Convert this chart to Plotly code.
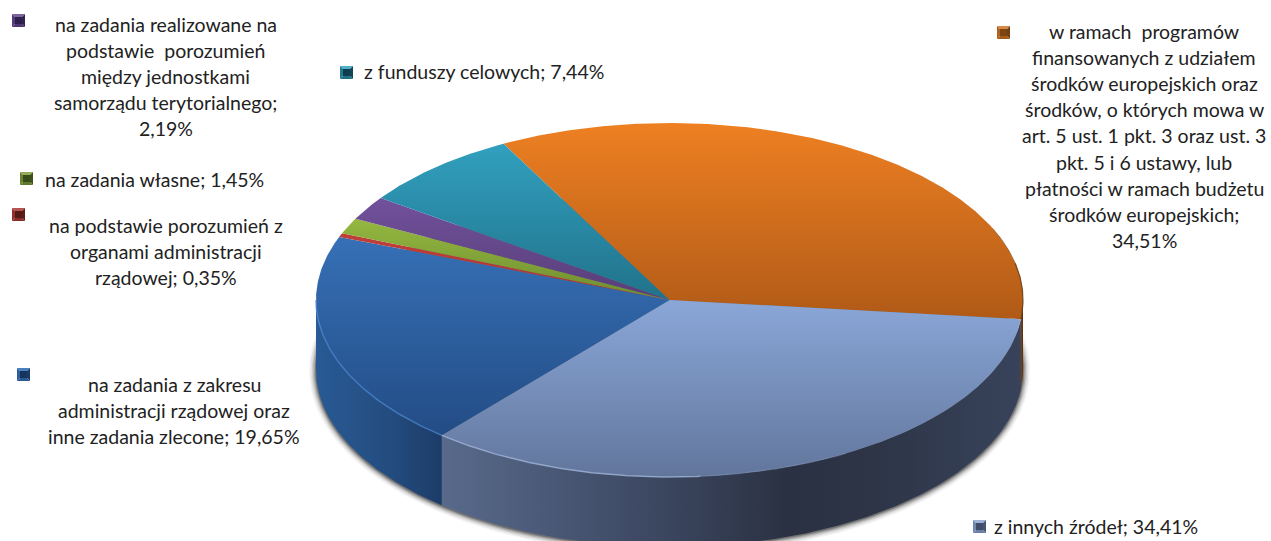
import numpy as np
import plotly.graph_objects as go

# Budget shares, clockwise from the start angle
categories = ["fundusze_europejskie", "inne_zrodla", "zlecone", "porozumienia_rzad",
              "wlasne", "porozumienia_jst", "fundusze_celowe"]
shares = [34.51, 34.41, 19.65, 0.35, 1.45, 2.19, 7.44]

# Lighter and darker end of the vertical shading on the top face
top_light = ["#ee8022", "#8aa7d8", "#3670b6", "#c23f3a", "#94b840", "#72519c", "#31a0bf"]
top_dark = ["#b05a17", "#62769c", "#234c85", "#a83331", "#6f8c30", "#573e78", "#21728a"]

label_lines = [
    ["w ramach  programów", "finansowanych z udziałem", "środków europejskich oraz",
     "środków, o których mowa w", "art. 5 ust. 1 pkt. 3 oraz ust. 3", "pkt. 5 i 6 ustawy, lub",
     "płatności w ramach budżetu", "środków europejskich;", "34,51%"],
    ["z innych źródeł; 34,41%"],
    ["na zadania z zakresu", "administracji rządowej oraz", "inne zadania zlecone; 19,65%"],
    ["na podstawie porozumień z", "organami administracji", "rządowej; 0,35%"],
    ["na zadania własne; 1,45%"],
    ["na zadania realizowane na", "podstawie  porozumień", "między jednostkami",
     "samorządu terytorialnego;", "2,19%"],
    ["z funduszy celowych; 7,44%"],
]
label_centre_x = [1144, 1096, 174, 166, 154.5, 165.5, 484]
label_first_y = [31, 526, 384, 225, 179, 24, 71]
key_left_top = [(997, 26), (973, 520), (17, 368), (12, 208), (20, 172), (12, 14), (340, 66)]
# Bevel faces of each key: top, left, right, bottom, centre
key_colours = [
    ("#d98a4a", "#b0621f", "#75400f", "#a85a18", "#7c4512"),
    ("#9db2d6", "#7088b0", "#46566f", "#6a80a8", "#3f4d68"),
    ("#4a80c0", "#2c5f9c", "#183c66", "#2a5a94", "#17355c"),
    ("#b85450", "#94302e", "#5c1c1a", "#8a2c2a", "#541a18"),
    ("#94ad58", "#688430", "#3e5318", "#5f7a2a", "#39491a"),
    ("#7d62a0", "#553b7a", "#33214f", "#4f3672", "#2e1f4a"),
    ("#4fb0cc", "#23788f", "#124656", "#1f7088", "#103d4c"),
]

# Geometry of the tilted disc on a pixel-sized plot area
CX, CY, RX, RY = 669.5, 300.0, 353.5, 177.0
DEPTH = 70.0
START = -28.0
LINE_GAP = 26.2
FONT = "Lato"
FONT_SIZE = 19.5
TEXT_COLOUR = "#222222"


def rim(a_from, a_to, shift=0.0, grow=0.0, n=None):
    """Points on the ellipse between two clockwise angles, in degrees from the top."""
    n = n or max(int(abs(a_to - a_from) * 2), 2)
    a = np.radians(np.linspace(a_from, a_to, n))
    return CX + (RX + grow) * np.sin(a), CY + shift - (RY + grow) * np.cos(a)


edges = START + np.concatenate([[0], np.cumsum(shares)]) * 3.6
fig = go.Figure()


def filled(xs, ys, gradient):
    fig.add_trace(go.Scatter(x=xs, y=ys, mode="lines", fill="toself", fillgradient=gradient,
                             line=dict(width=0), hoverinfo="skip", showlegend=False))


def stroke(xs, ys, colour, width):
    fig.add_trace(go.Scatter(x=xs, y=ys, mode="lines", line=dict(color=colour, width=width),
                             hoverinfo="skip", showlegend=False))


# Soft drop shadow under the side wall
for grow, alpha in [(7, .06), (5.5, .09), (4, .14), (2.8, .2), (1.6, .28), (.8, .35)]:
    xs, ys = rim(0, 360, shift=DEPTH + 0.5, grow=grow, n=361)
    fig.add_trace(go.Scatter(x=xs, y=ys, mode="lines", fill="toself",
                             fillcolor=f"rgba(60,60,60,{alpha})", line=dict(width=0),
                             hoverinfo="skip", showlegend=False))

# Side wall: only the front half of the disc is visible
side_scales = {
    0: [[0, "#7a4416"], [1, "#5a3010"]],
    1: [[0, "#586a8b"], [.33, "#3f4b66"], [.6, "#2a3142"], [.75, "#2d3547"], [1, "#38435b"]],
    2: [[0, "#295a94"], [.6, "#234c7f"], [1, "#1c3c68"]],
}
for i, scale in side_scales.items():
    a0, a1 = max(edges[i], 90.0), min(edges[i + 1], 270.0)
    tx, ty = rim(a0, a1)
    bx, by = rim(a1, a0, shift=DEPTH)
    filled(np.r_[tx, bx, tx[0]], np.r_[ty, by, ty[0]],
           dict(type="horizontal", colorscale=scale, start=float(tx.min()), stop=float(tx.max())))

# Top face
for i in range(len(shares)):
    ex, ey = rim(edges[i], edges[i + 1])
    xs, ys = np.r_[CX, ex, CX], np.r_[CY, ey, CY]
    filled(xs, ys, dict(type="vertical", colorscale=[[0, top_light[i]], [1, top_dark[i]]],
                        start=float(ys.min()), stop=float(ys.max())))

# Bevel highlights along the rim
stroke(*rim(edges[2], 270), "rgba(72,132,204,0.75)", 1.5)
stroke(*rim(edges[2], 175), "rgba(168,190,228,0.7)", 1.5)
stroke(*rim(175, 150), "rgba(130,150,190,0.5)", 1.2)
stroke(*rim(66, 78), "rgba(90,50,15,0.4)", 1.0)
stroke(*rim(78, edges[1]), "rgba(90,50,15,0.8)", 1.2)

# Bevelled legend keys: four sloped faces round a darker centre
shapes = []
KEY = 13
BEVEL = 3
for (kx, ky), (top, left, right, bottom, centre) in zip(key_left_top, key_colours):
    outer = [(kx, ky), (kx + KEY, ky), (kx + KEY, ky + KEY), (kx, ky + KEY)]
    inner = [(kx + BEVEL, ky + BEVEL), (kx + KEY - BEVEL, ky + BEVEL),
             (kx + KEY - BEVEL, ky + KEY - BEVEL), (kx + BEVEL, ky + KEY - BEVEL)]
    for j, colour in enumerate([top, right, bottom, left]):
        k = (j + 1) % 4
        shapes.append(dict(type="path", xref="x", yref="y", fillcolor=colour, line=dict(width=0),
                           path=f"M{outer[j][0]},{outer[j][1]} L{outer[k][0]},{outer[k][1]} "
                                f"L{inner[k][0]},{inner[k][1]} L{inner[j][0]},{inner[j][1]} Z"))
    shapes.append(dict(type="rect", xref="x", yref="y", fillcolor=centre, line=dict(width=0),
                       x0=kx + BEVEL, y0=ky + BEVEL, x1=kx + KEY - BEVEL, y1=ky + KEY - BEVEL))

# Data labels, one annotation per line so the leading stays fixed
annotations = []
for lines, lx, ly in zip(label_lines, label_centre_x, label_first_y):
    for j, text in enumerate(lines):
        annotations.append(dict(x=lx, y=ly + j * LINE_GAP, xref="x", yref="y", text=text,
                                showarrow=False, xanchor="center", yanchor="middle",
                                font=dict(family=FONT, size=FONT_SIZE, color=TEXT_COLOUR)))

fig.update_layout(
    width=1271, height=541, margin=dict(l=0, r=0, t=0, b=0),
    paper_bgcolor="white", plot_bgcolor="white", showlegend=False,
    xaxis=dict(range=[0, 1271], visible=False, fixedrange=True),
    yaxis=dict(range=[541, 0], visible=False, fixedrange=True),
    shapes=shapes, annotations=annotations,
)
fig.write_html("out.html", config=dict(displayModeBar=False))
